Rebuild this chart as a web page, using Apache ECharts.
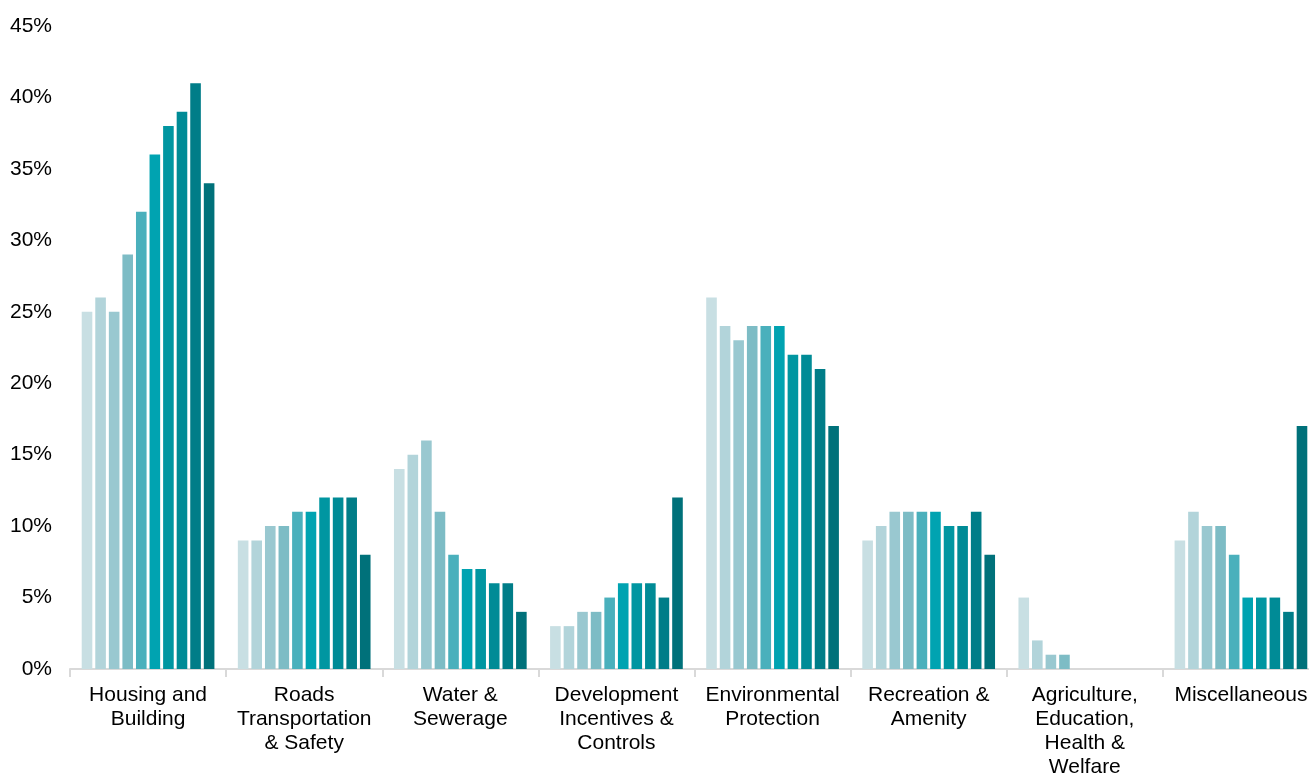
<!DOCTYPE html>
<html>
<head>
<meta charset="utf-8">
<title>Bar chart</title>
<script src="https://cdn.jsdelivr.net/npm/echarts@6/dist/echarts.min.js"></script>
<style>
  html, body { margin: 0; padding: 0; background: #fff; }
  #chart { width: 1309px; height: 776px; }
</style>
</head>
<body>
<div id="chart"></div>
<script>
// categories (x axis)
const categories = [
  'Housing and\nBuilding',
  'Roads\nTransportation\n& Safety',
  'Water &\nSewerage',
  'Development\nIncentives &\nControls',
  'Environmental\nProtection',
  'Recreation &\nAmenity',
  'Agriculture,\nEducation,\nHealth &\nWelfare',
  'Miscellaneous'
]

// one row per series (10 series, light -> dark), values in %
const s1  = [25,  9, 14,  3, 26,  9, 5,  9]
const s2  = [26,  9, 15,  3, 24, 10, 2, 11]
const s3  = [25, 10, 16,  4, 23, 11, 1, 10]
const s4  = [29, 10, 11,  4, 24, 11, 1, 10]
const s5  = [32, 11,  8,  5, 24, 11, 0,  8]
const s6  = [36, 11,  7,  6, 24, 11, 0,  5]
const s7  = [38, 12,  7,  6, 22, 10, 0,  5]
const s8  = [39, 12,  6,  6, 22, 10, 0,  5]
const s9  = [41, 12,  6,  5, 21, 11, 0,  4]
const s10 = [34,  8,  4, 12, 17,  8, 0, 17]

const seriesData = [s1, s2, s3, s4, s5, s6, s7, s8, s9, s10]
const seriesNames = ['Series 1', 'Series 2', 'Series 3', 'Series 4', 'Series 5',
  'Series 6', 'Series 7', 'Series 8', 'Series 9', 'Series 10']

// teal ramp
const colors = ['#c8dfe3', '#b2d4da', '#99c8d0', '#7dbcc5', '#4ab0bc',
  '#00a3b1', '#0096a1', '#008b96', '#007d88', '#00717a']

const yTicks = [0, 5, 10, 15, 20, 25, 30, 35, 40, 45]

const chart = echarts.init(document.getElementById('chart'))

const option = {
  animation: false,
  textStyle: { fontFamily: 'Liberation Sans, Arial, sans-serif' },
  // last category runs a little past the right edge, labels may touch the bottom
  grid: { left: 70, width: 1249, top: 26, bottom: 107, containLabel: false, outerBoundsMode: 'none' },
  xAxis: {
    type: 'category',
    data: categories,
    axisLine: { lineStyle: { color: '#d9d9d9', width: 2 } },
    axisTick: { show: true, length: 8, lineStyle: { color: '#d9d9d9', width: 2 } },
    axisLabel: {
      color: '#000',
      fontSize: 21,
      lineHeight: 24,
      margin: 14,
      interval: 0
    }
  },
  yAxis: {
    type: 'value',
    min: yTicks[0],
    max: yTicks[yTicks.length - 1],
    interval: 5,
    axisLine: { show: false },
    axisTick: { show: false },
    splitLine: { show: false },
    axisLabel: {
      color: '#000',
      fontSize: 21,
      margin: 18,
      formatter: (v) => v + '%'
    }
  },
  series: seriesData.map((d, i) => ({
    name: seriesNames[i],
    type: 'bar',
    data: d,
    barGap: '28%',
    barCategoryGap: '15%',
    itemStyle: { color: colors[i] }
  }))
}

chart.setOption(option)
</script>
</body>
</html>
